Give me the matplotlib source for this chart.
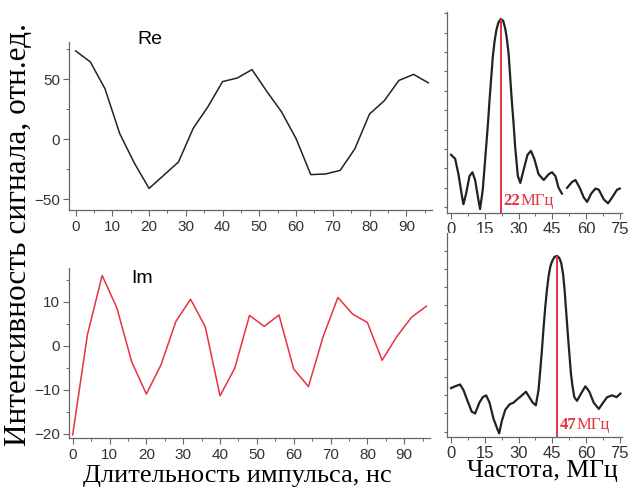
import numpy as np
import matplotlib
matplotlib.use("Agg")
import matplotlib.pyplot as plt
from matplotlib.ticker import MultipleLocator

plt.rcParams['font.family'] = ['Liberation Sans', 'DejaVu Sans']

# pulse duration, ns
t_ns = [0, 4, 8, 12, 16, 20, 24, 28, 32, 36, 40, 44, 48,
        52, 56, 60, 64, 68, 72, 76, 80, 84, 88, 92, 96]
re_vals = [73.6, 64.4, 42, 4.7, -20, -41, -30, -19, 9, 27, 48, 51, 58,
           40, 23, 0.5, -29.5, -29, -26, -8, 21, 32, 49, 54, 47]
im_vals = [-20.3, 2.5, 16, 8.6, -3.6, -11, -4.3, 5.5, 10.6, 4.3, -11.4, -5.1, 6.9,
           4.4, 7, -5.3, -9.3, 2.1, 11, 7.2, 5.3, -3.3, 2.1, 6.5, 9]

# spectrum of the Re signal (peak at 22 MHz), nan = break in the trace
f1 = [0, 1.8, 3.3, 4.8, 5.5, 6.7, 8.2, 9.5, 10.7, 12.2, 12.9, 14.1, 15.6, 16.4,
      17.1, 18.6, 19.3, 20.1, 21.0, 22.1, 23.2, 24.1, 24.8, 25.6, 26.3, 27.0,
      27.8, 28.5, 29.7, 30.8, 32.2, 34.0, 35.5, 37.0, 38.9, 41.2, 43.4, 44.9,
      46.4, 47.8, 49.3, 50.4, 51.6, 53.8, 55.3, 57.2, 59.0, 60.5, 62.3, 64.2,
      65.7, 67.9, 69.8, 71.6, 73.8, 75]
s1 = [0.30, 0.28, 0.20, 0.09, 0.045, 0.10, 0.19, 0.21, 0.17, 0.065, 0.02, 0.12,
      0.34, 0.46, 0.58, 0.81, 0.88, 0.94, 0.98, 1.0, 0.99, 0.95, 0.90, 0.82,
      0.70, 0.58, 0.46, 0.34, 0.19, 0.155, 0.22, 0.30, 0.32, 0.28, 0.20, 0.17,
      0.20, 0.21, 0.19, 0.13, 0.10, np.nan, 0.13, 0.16, 0.17, 0.13, 0.08, 0.057,
      0.10, 0.126, 0.12, 0.07, 0.05, 0.08, 0.12, 0.126]

# spectrum of the Im signal (peak at 47 MHz)
f2 = [0, 1.8, 4.0, 5.5, 7.3, 9.2, 10.7, 12.6, 14.1, 15.6, 17.1, 18.9, 20.4,
      21.4, 22.6, 24.1, 26.0, 27.8, 29.6, 31.5, 33.3, 34.8, 36.3, 37.7, 38.9,
      39.6, 40.4, 41.1, 41.9, 42.6, 43.4, 44.1, 44.9, 46.0, 47.1, 48.1, 49.0,
      49.8, 50.5, 51.2, 51.9, 52.6, 53.3, 54.0, 54.8, 56.0, 57.8, 59.7, 61.5,
      63.4, 65.7, 67.6, 69.4, 71.6, 73.6, 75.3]
s2 = [0.27, 0.28, 0.29, 0.26, 0.20, 0.14, 0.13, 0.19, 0.22, 0.23, 0.19, 0.10,
      0.05, 0.02, 0.09, 0.15, 0.18, 0.19, 0.21, 0.23, 0.25, 0.22, 0.19, 0.175,
      0.26, 0.36, 0.48, 0.60, 0.72, 0.81, 0.89, 0.94, 0.97, 0.995, 1.0, 0.99,
      0.96, 0.90, 0.81, 0.69, 0.57, 0.46, 0.35, 0.28, 0.22, 0.20, 0.24, 0.28,
      0.25, 0.19, 0.155, 0.19, 0.22, 0.23, 0.22, 0.24]

peak1 = 22
peak2 = 47

W, H = 630, 492
fig = plt.figure(figsize=(W / 100, H / 100), dpi=100)


def box(x0, y0, x1, y1):
    # pixel box -> figure fraction
    return [x0 / W, 1 - y1 / H, (x1 - x0) / W, (y1 - y0) / H]


ax_re = fig.add_axes(box(69, 42, 432, 210))
ax_im = fig.add_axes(box(69, 268, 430, 438))
ax_s1 = fig.add_axes(box(447, 12, 622, 213))
ax_s2 = fig.add_axes(box(447, 233, 622, 437))

red = '#e5333f'
spine_col = '#666666'

for ax in (ax_re, ax_im, ax_s1, ax_s2):
    for s in ('top', 'right'):
        ax.spines[s].set_visible(False)
    for s in ('left', 'bottom'):
        ax.spines[s].set_color(spine_col)
        ax.spines[s].set_linewidth(0.9)
    ax.tick_params(which='both', direction='out', color=spine_col,
                   labelcolor='#333333')
    ax.tick_params(which='major', length=4, width=0.8)
    ax.tick_params(which='minor', length=2.5, width=0.7)

# Re
ax_re.plot(t_ns, re_vals, color='#222222', lw=1.1)
ax_re.set_xlim(-1.8, 97)
ax_re.set_ylim(-59, 81)
ax_re.set_yticks([-50, 0, 50])
ax_re.yaxis.set_minor_locator(MultipleLocator(25))
ax_re.set_xticks(range(0, 100, 10))
ax_re.xaxis.set_minor_locator(MultipleLocator(5))
ax_re.tick_params(labelsize=11)
ax_re.tick_params(axis='y', pad=2.5)
ax_re.text(0.223, 1.012, 'Re', transform=ax_re.transAxes, fontsize=14,
           ha='center', va='center')

# Im
ax_im.plot(t_ns, im_vals, color=red, lw=1.1)
ax_im.set_xlim(-1, 97)
ax_im.set_ylim(-21, 17.7)
ax_im.set_yticks([-20, -10, 0, 10])
ax_im.yaxis.set_minor_locator(MultipleLocator(5))
ax_im.set_xticks(range(0, 100, 10))
ax_im.xaxis.set_minor_locator(MultipleLocator(5))
ax_im.tick_params(labelsize=11)
ax_im.tick_params(axis='y', pad=2.5)
ax_im.text(0.202, 0.94, 'Im', transform=ax_im.transAxes, fontsize=14,
           ha='center', va='center')

# spectra
for ax, f, s, pk, top in ((ax_s1, f1, s1, peak1, 1.036), (ax_s2, f2, s2, peak2, 1.127)):
    ax.plot(f, s, color='#222222', lw=1.6)
    ax.vlines(pk, 0, 1.0, color=red, lw=1.4)
    ax.set_xlim(-1.8, 76)
    ax.set_ylim(0, top)
    ax.set_xticks(range(0, 76, 15))
    ax.xaxis.set_minor_locator(MultipleLocator(7.5))
    ax.set_yticks(np.arange(0.03, top, 0.1))
    ax.tick_params(axis='y', which='major', length=2, labelleft=False)
    ax.tick_params(axis='x', labelsize=12, pad=2.5)
    ax.annotate(str(pk), xy=(pk, 0.02), xytext=(2, 0), textcoords='offset points',
                color=red, fontsize=12, fontweight='bold', va='bottom',
                family='Liberation Serif')
    ax.annotate('МГц', xy=(pk, 0.02), xytext=(14.5, 0), textcoords='offset points',
                color=red, fontsize=12, va='bottom', family='Liberation Serif')

fig.text(19 / W, 1 - 235 / H, 'Интенсивность сигнала, отн.ед.', rotation=90,
         ha='center', va='center', fontsize=22.5, family='Liberation Serif')
fig.text(237 / W, 1 - 476 / H, 'Длительность импульса, нс', ha='center',
         va='center', fontsize=19, family='Liberation Serif')
fig.text(542 / W, 1 - 471 / H, 'Частота, МГц', ha='center', va='center',
         fontsize=18.5, family='Liberation Serif')

fig.savefig('out.png', dpi=100)
